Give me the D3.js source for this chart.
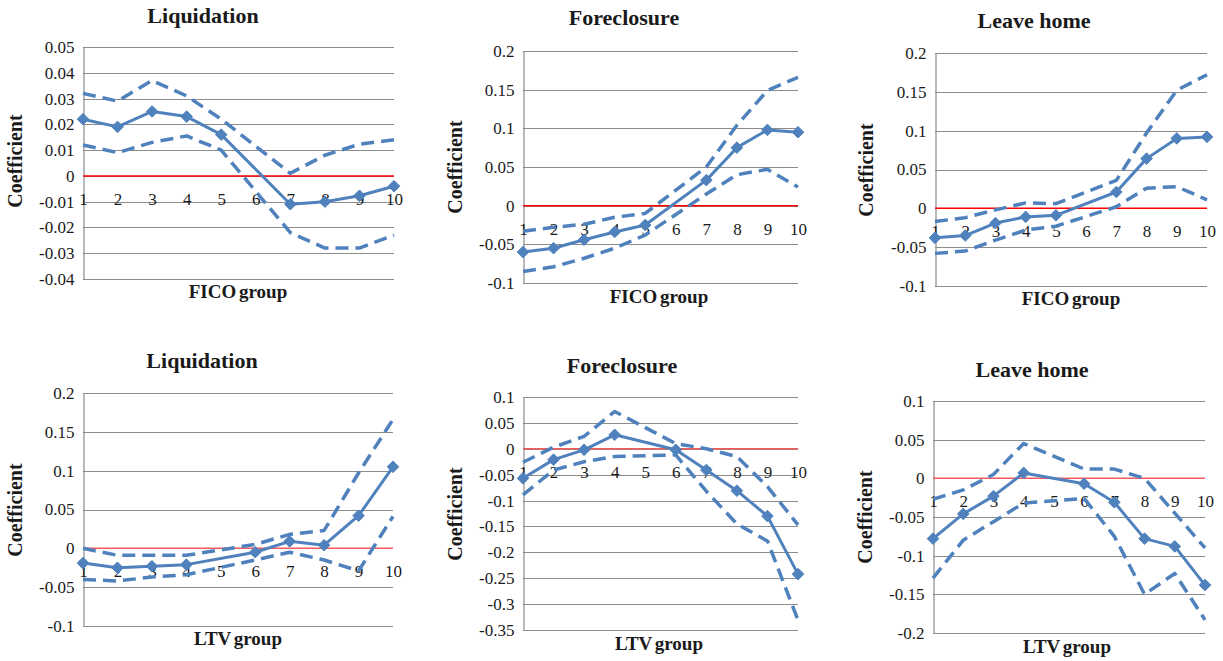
<!DOCTYPE html>
<html><head><meta charset="utf-8">
<script src="https://cdn.jsdelivr.net/npm/d3@7"></script>
<style>
html,body{margin:0;padding:0;background:#fff;}
svg{display:block;}
svg text{font-family:"Liberation Serif","Times New Roman",Times,"DejaVu Serif","Noto Serif",serif !important;fill:#1a1a1a;}
</style></head>
<body>
<svg id="chart" width="1223" height="661"></svg>
<script>
// ---------- data ----------
const categories = ["1","2","3","4","5","6","7","8","9","10"];

const ficoLiqCoef  = [0.022, 0.019, 0.025, 0.023, 0.016, null, -0.011, -0.010, -0.0077, -0.004];
const ficoLiqUpper = [0.032, 0.029, 0.037, 0.031, 0.022, null, 0.001, 0.008, 0.0123, 0.014];
const ficoLiqLower = [0.012, 0.009, 0.013, 0.0155, 0.010, null, -0.022, -0.028, -0.028, -0.023];

const ficoForeCoef  = [-0.060, -0.055, -0.044, -0.034, -0.025, null, 0.033, 0.075, 0.098, 0.095];
const ficoForeUpper = [-0.033, -0.028, -0.024, -0.015, -0.010, null, 0.050, 0.104, 0.149, 0.166];
const ficoForeLower = [-0.085, -0.079, -0.068, -0.055, -0.038, null, 0.015, 0.040, 0.047, 0.024];

const ficoLeaveCoef  = [-0.038, -0.035, -0.019, -0.011, -0.009, null, 0.021, 0.064, 0.090, 0.092];
const ficoLeaveUpper = [-0.017, -0.012, -0.002, 0.007, 0.006, null, 0.036, 0.097, 0.152, 0.172];
const ficoLeaveLower = [-0.058, -0.055, -0.041, -0.028, -0.023, null, 0.002, 0.026, 0.028, 0.011];

const ltvLiqCoef  = [-0.019, -0.025, -0.023, -0.021, null, -0.005, 0.009, 0.004, 0.042, 0.105];
const ltvLiqUpper = [0.000, -0.009, -0.009, -0.009, null, 0.005, 0.018, 0.023, 0.097, 0.166];
const ltvLiqLower = [-0.040, -0.042, -0.037, -0.034, null, -0.015, -0.005, -0.015, -0.029, 0.041];

const ltvForeCoef  = [-0.057, -0.021, -0.002, 0.027, null, -0.002, -0.041, -0.081, -0.130, -0.242];
const ltvForeUpper = [-0.026, 0.003, 0.024, 0.072, null, 0.010, 0.000, -0.015, -0.073, -0.147];
const ltvForeLower = [-0.089, -0.041, -0.025, -0.015, null, -0.012, -0.082, -0.145, -0.178, -0.331];

const ltvLeaveCoef  = [-0.078, -0.046, -0.023, 0.007, null, -0.007, -0.031, -0.078, -0.088, -0.138];
const ltvLeaveUpper = [-0.027, -0.015, 0.005, 0.045, null, 0.012, 0.012, 0.000, -0.045, -0.090];
const ltvLeaveLower = [-0.129, -0.080, -0.056, -0.032, null, -0.026, -0.075, -0.150, -0.123, -0.183];

const ticksLiqFico = [-0.04, -0.03, -0.02, -0.01, 0, 0.01, 0.02, 0.03, 0.04, 0.05];
const ticksA = [-0.1, -0.05, 0, 0.05, 0.1, 0.15, 0.2];
const ticksForeLtv = [-0.35, -0.3, -0.25, -0.2, -0.15, -0.1, -0.05, 0, 0.05, 0.1];
const ticksLeaveLtv = [-0.2, -0.15, -0.1, -0.05, 0, 0.05, 0.1];

const titles = ["Liquidation", "Foreclosure", "Leave home", "Liquidation", "Foreclosure", "Leave home"];
const xTitles = ["FICO group", "FICO group", "FICO group", "LTV group", "LTV group", "LTV group"];
const yTitle = "Coefficient";

// ---------- layout (positions / styles only) ----------
const panels = [
  {coef: ficoLiqCoef, up: ficoLiqUpper, lo: ficoLiqLower, ticks: ticksLiqFico,
   L: 83, R: 394, T: 47, B: 279, tx: 203, ty: 23, yx: 22, yy: 161, xx: 238, xy: 298, zero: "#ff0000"},
  {coef: ficoForeCoef, up: ficoForeUpper, lo: ficoForeLower, ticks: ticksA,
   L: 523, R: 798, T: 51, B: 283, tx: 624, ty: 25, yx: 462, yy: 167, xx: 659, xy: 303, zero: "#ff0000"},
  {coef: ficoLeaveCoef, up: ficoLeaveUpper, lo: ficoLeaveLower, ticks: ticksA,
   L: 935, R: 1207, T: 53, B: 286, tx: 1034, ty: 28, yx: 873, yy: 170, xx: 1071, xy: 305, zero: "#ff0000"},
  {coef: ltvLiqCoef, up: ltvLiqUpper, lo: ltvLiqLower, ticks: ticksA,
   L: 83, R: 393, T: 393, B: 626, tx: 202, ty: 368, yx: 22, yy: 510, xx: 238, xy: 645, zero: "#f55a5a"},
  {coef: ltvForeCoef, up: ltvForeUpper, lo: ltvForeLower, ticks: ticksForeLtv,
   L: 523, R: 798, T: 397, B: 630, tx: 622, ty: 373, yx: 462, yy: 514, xx: 659, xy: 650, zero: "#f55a5a"},
  {coef: ltvLeaveCoef, up: ltvLeaveUpper, lo: ltvLeaveLower, ticks: ticksLeaveLtv,
   L: 933, R: 1205, T: 401, B: 633, tx: 1032, ty: 377, yx: 872, yy: 517, xx: 1067, xy: 653, zero: "#f55a5a"}
];

const blue = "#4f81bd";
const gridColor = "#8c8c8c";
const serif = '"Liberation Serif","Times New Roman",Times,"DejaVu Serif","Noto Serif",serif';
const svg = d3.select("#chart");

function fmt(v) {
  if (Math.abs(v) < 1e-9) return "0";
  return String(+v.toFixed(2));
}

panels.forEach((p, i) => {
  const g = svg.append("g");
  const x = d3.scalePoint().domain(categories).range([p.L, p.R]);
  const ext = d3.extent(p.ticks);
  const y = d3.scaleLinear().domain(ext).range([p.B, p.T]);

  // gridlines
  g.selectAll("line.grid").data(p.ticks).enter().append("line")
    .attr("x1", p.L).attr("x2", p.R)
    .attr("y1", d => Math.round(y(d)) + 0.5).attr("y2", d => Math.round(y(d)) + 0.5)
    .attr("stroke", gridColor).attr("stroke-width", 1.2);

  // y axis line + labels
  const yAxis = d3.axisLeft(y).tickValues(p.ticks).tickFormat(fmt).tickSize(0).tickPadding(9);
  const ya = g.append("g").attr("transform", `translate(${p.L + 0.5},0)`).call(yAxis)
    .attr("font-family", serif);
  ya.select(".domain").attr("stroke", gridColor).attr("stroke-width", 1.2);
  ya.selectAll("text").attr("font-size", 17).style("font-family", serif).attr("fill", "#1a1a1a");

  // zero line (red)
  g.append("line").attr("x1", p.L).attr("x2", p.R)
    .attr("y1", y(0)).attr("y2", y(0))
    .attr("stroke", p.zero).attr("stroke-width", 1.5);

  // category labels
  const xAxis = d3.axisBottom(x).tickSize(0).tickPadding(17);
  const xa = g.append("g").attr("transform", `translate(0,${y(0)})`).call(xAxis)
    .attr("font-family", serif);
  xa.select(".domain").remove();
  xa.selectAll("text").attr("font-size", 17).style("font-family", serif).attr("fill", "#1a1a1a");

  const mk = arr => categories.map((c, k) => ({c, v: arr[k]})).filter(d => d.v !== null);
  const line = d3.line().x(d => x(d.c)).y(d => y(d.v));

  // dashed bounds
  [p.up, p.lo].forEach(arr => {
    g.append("path").datum(mk(arr)).attr("d", line)
      .attr("fill", "none").attr("stroke", blue).attr("stroke-width", 3.5)
      .attr("stroke-dasharray", "13,7").attr("stroke-linejoin", "round");
  });

  // coefficient line
  const cd = mk(p.coef);
  g.append("path").datum(cd).attr("d", line)
    .attr("fill", "none").attr("stroke", blue).attr("stroke-width", 3)
    .attr("stroke-linejoin", "round");
  const r = 5.8;
  g.selectAll("path.mk").data(cd).enter().append("path")
    .attr("d", d => `M${x(d.c)},${y(d.v) - r}L${x(d.c) + r},${y(d.v)}L${x(d.c)},${y(d.v) + r}L${x(d.c) - r},${y(d.v)}Z`)
    .attr("fill", blue).attr("stroke", blue).attr("stroke-width", 1);

  // titles
  g.append("text").attr("x", p.tx).attr("y", p.ty).attr("text-anchor", "middle")
    .style("font-family", serif)
    .attr("font-size", 22).attr("font-weight", "bold").text(titles[i]);
  g.append("text").attr("transform", `translate(${p.yx},${p.yy}) rotate(-90)`)
    .style("font-family", serif)
    .attr("text-anchor", "middle").attr("font-size", 20).attr("font-weight", "bold").text(yTitle);
  g.append("text").attr("x", p.xx).attr("y", p.xy).attr("text-anchor", "middle")
    .style("font-family", serif).attr("word-spacing", -2)
    .attr("font-size", 19).attr("font-weight", "bold").text(xTitles[i]);
});
</script>
</body></html>
